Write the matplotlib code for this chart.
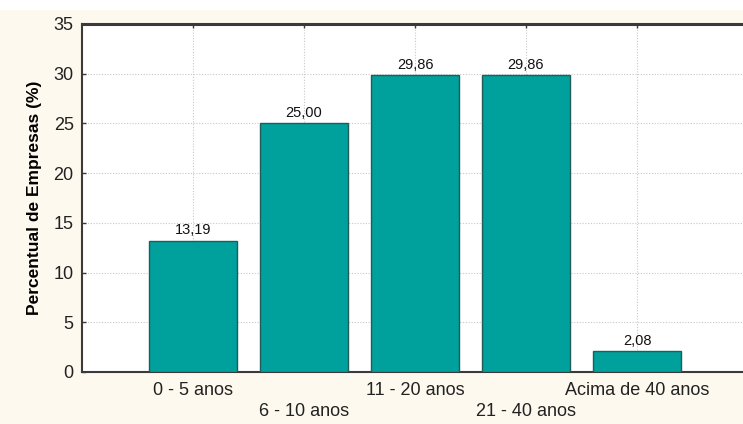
import matplotlib
matplotlib.use('Agg')

import matplotlib.pyplot as plt
import matplotlib.patches as mpatches
import numpy as np

BG = "#fdf9ee"
BAR_CLR = "#00a19c"
EDGE_CLR = "#1d5e5b"
SPINE = "#3a3a3a"
GRID = "#c8c8c8"

plt.rcParams.update({
    'font.family': ['Liberation Sans', 'DejaVu Sans'],
    'font.size': 12,
})

faixas = ['0 - 5 anos', '6 - 10 anos', '11 - 20 anos', '21 - 40 anos', 'Acima de 40 anos']
percentual = [13.19, 25.00, 29.86, 29.86, 2.08]
y_ticks = [0, 5, 10, 15, 20, 25, 30, 35]

fig = plt.figure(figsize=(7.43, 4.24), dpi=100, facecolor=BG)
# white strip along the top edge
fig.patches.append(mpatches.Rectangle((0, 0.976), 1, 0.024, transform=fig.transFigure,
                                      facecolor='white', edgecolor='none', zorder=0))

ax = fig.add_axes([82/743, 52/424, 666/743, 348/424])
ax.set_facecolor('white')

x = np.arange(1, len(faixas) + 1)
ax.bar(x, percentual, 0.8, color=BAR_CLR, edgecolor=EDGE_CLR, linewidth=1.0, zorder=3)
for xi, v in zip(x, percentual):
    ax.text(xi, v + 0.35, f'{v:.2f}'.replace('.', ','), ha='center', va='bottom',
            fontsize=10.5, color='#111111', zorder=4)

ax.set_xlim(0, 6)
ax.set_ylim(0, 35)
ax.set_yticks(y_ticks)
ax.set_xticks(x)
# alternate labels drop to a second row
lbls = [f if i % 2 == 0 else '\n' + f for i, f in enumerate(faixas)]
ax.set_xticklabels(lbls, linespacing=1.35)
ax.tick_params(axis='both', direction='in', length=3, width=1, color=SPINE,
               labelsize=13, labelcolor='#222222')
ax.tick_params(axis='x', pad=7)
ax.tick_params(axis='y', pad=6)
ax.tick_params(axis='x', top=True)

ax.grid(True, linestyle=(0, (1, 1.5)), color=GRID, linewidth=0.8, zorder=0)
for s in ['left', 'bottom', 'top']:
    ax.spines[s].set_color(SPINE)
    ax.spines[s].set_linewidth(1.5)
ax.spines['top'].set_linewidth(2.2)
ax.spines['right'].set_visible(False)

ax.set_ylabel('Percentual de Empresas (%)', fontsize=12.5, fontweight='bold', labelpad=8)

fig.savefig('out.png', dpi=100, facecolor=BG)
